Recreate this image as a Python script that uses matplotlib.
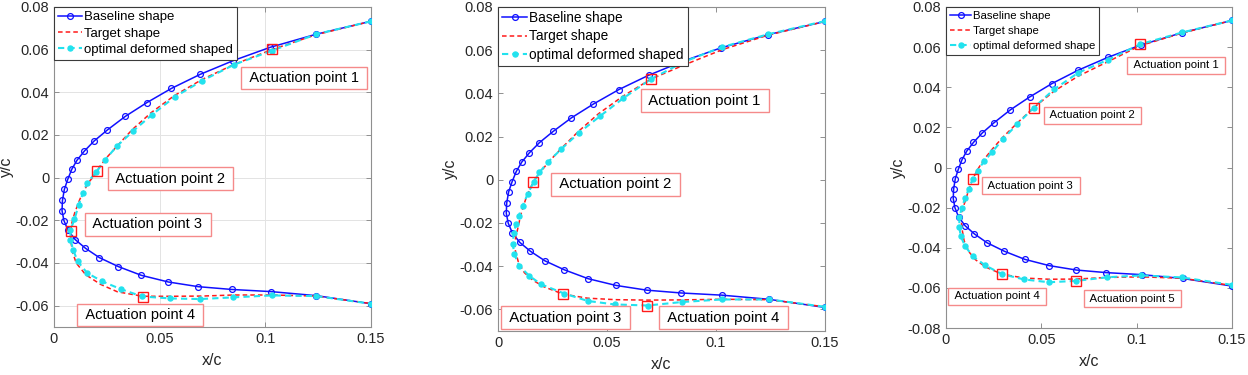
import matplotlib
matplotlib.use("Agg")
import matplotlib.pyplot as plt
from matplotlib.ticker import FuncFormatter, FixedLocator

plt.rcParams['font.family'] = ['Liberation Sans', 'DejaVu Sans']
plt.rcParams['axes.unicode_minus'] = False

# ---------------- data ----------------
baseline_x = [0.15, 0.1239, 0.1023, 0.0849, 0.0691, 0.0555, 0.0438, 0.0337, 0.0253, 0.0190,
              0.0144, 0.0109, 0.0084, 0.0065, 0.0049, 0.0040, 0.0038, 0.0047, 0.0066, 0.0100,
              0.0149, 0.0215, 0.0305, 0.0414, 0.0541, 0.0683, 0.0841, 0.1026, 0.1241, 0.15]
baseline_y = [0.0733, 0.0672, 0.0611, 0.0549, 0.0484, 0.0418, 0.0351, 0.0287, 0.0224, 0.0172,
              0.0125, 0.0082, 0.0039, -0.0008, -0.0055, -0.0107, -0.0155, -0.0201, -0.0246, -0.0290,
              -0.0331, -0.0375, -0.0417, -0.0458, -0.0489, -0.0511, -0.0524, -0.0534, -0.0553, -0.0591]

# panel 1
target1_x = [0.15, 0.124, 0.103, 0.085, 0.070, 0.057, 0.046, 0.037, 0.030, 0.025,
             0.0215, 0.0195, 0.0169, 0.0145, 0.0122, 0.0098, 0.0085, 0.0079, 0.0080, 0.0088,
             0.0105, 0.015, 0.022, 0.030, 0.042, 0.055, 0.070, 0.085, 0.103, 0.124, 0.15]
target1_y = [0.0733, 0.0670, 0.0600, 0.0530, 0.0460, 0.0385, 0.0305, 0.0225, 0.0150, 0.0095,
             0.0050, 0.0015, -0.0016, -0.0055, -0.0102, -0.0165, -0.0210, -0.0248, -0.0300, -0.0350,
             -0.0400, -0.0455, -0.0500, -0.0535, -0.0556, -0.0556, -0.0555, -0.0550, -0.0550, -0.0555, -0.0590]
opt1_x = [0.15, 0.1239, 0.103, 0.0853, 0.0702, 0.0572, 0.0465, 0.0375, 0.0297, 0.0243,
          0.0200, 0.0157, 0.0138, 0.0117, 0.0097, 0.0078, 0.0078, 0.0090, 0.0112, 0.0157,
          0.0228, 0.0315, 0.0417, 0.0550, 0.0690, 0.0849, 0.1030, 0.1240, 0.15]
opt1_y = [0.0733, 0.0672, 0.0595, 0.0530, 0.0455, 0.0379, 0.0296, 0.0219, 0.0147, 0.0085,
          0.0026, -0.0024, -0.0071, -0.0126, -0.0196, -0.0243, -0.0290, -0.0337, -0.0392, -0.0447,
          -0.0486, -0.0522, -0.0557, -0.0566, -0.0569, -0.0561, -0.0552, -0.0555, -0.0591]
act1_x = [0.1031, 0.0204, 0.0079, 0.0419]
act1_y = [0.0602, 0.0031, -0.0248, -0.0560]
act1_labels = ['Actuation point 1', 'Actuation point 2', 'Actuation point 3', 'Actuation point 4']

# panel 2
target2_x = [0.15, 0.124, 0.103, 0.085, 0.0701, 0.057, 0.046, 0.037, 0.029, 0.023,
             0.019, 0.0162, 0.013, 0.0105, 0.0090, 0.0082, 0.0078, 0.0080, 0.0094, 0.0121,
             0.0160, 0.0210, 0.0298, 0.041, 0.054, 0.0684, 0.0843, 0.1026, 0.124, 0.15]
target2_y = [0.0733, 0.0670, 0.0603, 0.0530, 0.0466, 0.0385, 0.0305, 0.0225, 0.0145, 0.0080,
             0.0030, -0.0009, -0.0080, -0.0160, -0.0229, -0.0260, -0.0290, -0.0330, -0.0383, -0.0430,
             -0.0465, -0.0495, -0.0529, -0.0548, -0.0555, -0.0557, -0.0556, -0.0553, -0.0555, -0.0588]
opt2_x = [0.15, 0.124, 0.1026, 0.0853, 0.0701, 0.0574, 0.0467, 0.0372, 0.0290, 0.0228,
          0.0190, 0.0164, 0.0136, 0.0113, 0.0095, 0.0083, 0.0072, 0.0068, 0.0075, 0.0098,
          0.0144, 0.0198, 0.0305, 0.0412, 0.0535, 0.0686, 0.0842, 0.1026, 0.1244, 0.15]
opt2_y = [0.0735, 0.0674, 0.0614, 0.0546, 0.0466, 0.0377, 0.0294, 0.0218, 0.0142, 0.0081,
          0.0034, -0.0009, -0.0066, -0.0121, -0.0167, -0.0206, -0.0244, -0.0298, -0.0345, -0.0399,
          -0.0445, -0.0484, -0.0527, -0.0561, -0.0577, -0.0582, -0.0566, -0.0554, -0.0554, -0.0588]
act2_x = [0.0701, 0.0162, 0.0298, 0.0684]
act2_y = [0.0466, -0.0009, -0.0529, -0.0582]
act2_labels = ['Actuation point 1', 'Actuation point 2', 'Actuation point 3', 'Actuation point 4']

# panel 3
target3_x = [0.15, 0.1238, 0.102, 0.085, 0.0693, 0.0566, 0.0461, 0.0374, 0.0297, 0.0243,
             0.0199, 0.0166, 0.0140, 0.0118, 0.0100, 0.0086, 0.0079, 0.0083, 0.0095, 0.0120,
             0.0155, 0.0210, 0.0295, 0.041, 0.054, 0.0684, 0.0847, 0.1025, 0.1238, 0.15]
target3_y = [0.0733, 0.0670, 0.0608, 0.0528, 0.0455, 0.0380, 0.0299, 0.0222, 0.0150, 0.0092,
             0.0040, -0.0010, -0.0058, -0.0115, -0.0170, -0.0210, -0.0245, -0.0300, -0.0365, -0.0420,
             -0.0460, -0.0497, -0.0532, -0.0551, -0.0557, -0.0556, -0.0548, -0.0545, -0.0552, -0.0588]
opt3_x = [0.15, 0.1238, 0.102, 0.0852, 0.0693, 0.0566, 0.0461, 0.0374, 0.0297, 0.0243,
          0.0199, 0.0166, 0.0140, 0.0120, 0.0100, 0.0082, 0.0070, 0.0070, 0.0077, 0.0100,
          0.0140, 0.0206, 0.0295, 0.0410, 0.0540, 0.0684, 0.0847, 0.1025, 0.1238, 0.15]
opt3_y = [0.0733, 0.0673, 0.0615, 0.0538, 0.0472, 0.0389, 0.0299, 0.0216, 0.0140, 0.0078,
          0.0030, -0.0015, -0.0058, -0.0106, -0.0153, -0.0203, -0.0248, -0.0297, -0.0342, -0.0392,
          -0.0442, -0.0488, -0.0532, -0.0558, -0.0572, -0.0565, -0.0547, -0.0538, -0.0548, -0.0585]
act3_x = [0.102, 0.0461, 0.0140, 0.0295, 0.0684]
act3_y = [0.0615, 0.0299, -0.0058, -0.0532, -0.0565]
act3_labels = ['Actuation point 1', 'Actuation point 2', 'Actuation point 3',
               'Actuation point 4', 'Actuation point 5']

x_ticks = [0, 0.05, 0.1, 0.15]
y_ticks_12 = [-0.06, -0.04, -0.02, 0, 0.02, 0.04, 0.06, 0.08]
y_ticks_3 = [-0.08, -0.06, -0.04, -0.02, 0, 0.02, 0.04, 0.06, 0.08]
legend_labels_12 = ['Baseline shape', 'Target shape', 'optimal deformed shaped']
legend_labels_3 = ['Baseline shape', 'Target shape', 'optimal deformed shape']

# ---------------- layout (label positions in data coords) ----------------
lab1_pos = [(0.1184, 0.0467), (0.0551, -0.0004), (0.0443, -0.0218), (0.0408, -0.0644)]
lab2_pos = [(0.0949, 0.0366), (0.0540, -0.0021), (0.0309, -0.0639), (0.1035, -0.0639)]
lab3_pos = [(0.1206, 0.0510), (0.0769, 0.0261), (0.0444, -0.0091), (0.0269, -0.0642), (0.0979, -0.0653)]

fig = plt.figure(figsize=(12.48, 3.75), dpi=100)
W, H = 1248, 375

def make_ax(l, r, t, b):
    return fig.add_axes([l / W, 1 - b / H, (r - l) / W, (b - t) / H])

ax1 = make_ax(54, 371, 7, 327)
ax2 = make_ax(498, 825, 7, 331)
ax3 = make_ax(946, 1232, 7, 328)

BLUE = '#1010ff'
RED = '#ff1a1a'
CYAN = '#22e2ee'
SPINE = '#8f8f8f'
TXT = '#262626'
BOXEC = '#f58a8a'

panels = [
    (ax1, target1_x, target1_y, opt1_x, opt1_y, act1_x, act1_y, act1_labels, lab1_pos,
     y_ticks_12, (-0.07, 0.08), legend_labels_12, 9.5, 10.5, True, 0.32, 0.3),
    (ax2, target2_x, target2_y, opt2_x, opt2_y, act2_x, act2_y, act2_labels, lab2_pos,
     y_ticks_12, (-0.07, 0.08), legend_labels_12, 9.8, 10.8, False, 0.32, 0.3),
    (ax3, target3_x, target3_y, opt3_x, opt3_y, act3_x, act3_y, act3_labels, lab3_pos,
     y_ticks_3, (-0.08, 0.08), legend_labels_3, 8.2, 8.2, False, 0.42, 0.35),
]

fmt = FuncFormatter(lambda v, p: ('%g' % round(v, 4)))

for (ax, tx, ty, ox, oy, axx, axy, alabels, lpos, yt, ylim, leglabels,
     legfs, labfs, grid, lspace, bpad) in panels:
    l1, = ax.plot(baseline_x, baseline_y, '-', color=BLUE, lw=1.1, marker='o', ms=4.2,
                  mfc='none', mec=BLUE, mew=0.9, zorder=3)
    l2, = ax.plot(tx, ty, '--', color=RED, lw=1.1, zorder=4, dashes=(3, 2))
    l3, = ax.plot(ox, oy, '--', color=CYAN, lw=1.5, marker='o', ms=3.6, mfc=CYAN,
                  mec=CYAN, zorder=4, dashes=(3, 2))
    ax.plot(axx, axy, 's', ms=7, mfc='none', mec=RED, mew=1.0, ls='none', zorder=5)
    for lab, (px, py) in zip(alabels, lpos):
        ax.text(px, py, ' ' + lab + ' ', fontsize=labfs, color='black', ha='center', va='center',
                bbox=dict(boxstyle='square,pad=0.3', fc='white', ec=BOXEC, lw=1.0),
                zorder=6, clip_on=False)
    ax.set_xlim(0, 0.15)
    ax.set_ylim(*ylim)
    ax.xaxis.set_major_locator(FixedLocator(x_ticks))
    ax.yaxis.set_major_locator(FixedLocator(yt))
    ax.xaxis.set_major_formatter(fmt)
    ax.yaxis.set_major_formatter(fmt)
    ax.tick_params(direction='in', length=3.5, width=0.7, colors=SPINE, labelcolor=TXT,
                   labelsize=10.5, top=True, right=True, pad=3.5)
    for s in ax.spines.values():
        s.set_color(SPINE)
        s.set_linewidth(0.8)
    if grid:
        ax.grid(True, color='#e3e3e3', lw=0.7, zorder=0)
        ax.set_axisbelow(True)
    ax.set_xlabel('x/c', fontsize=11.5, color=TXT, labelpad=5)
    ax.set_ylabel('y/c', fontsize=11.5, color=TXT, labelpad=1.5)
    leg = ax.legend([l1, l2, l3], leglabels, loc='upper left', fontsize=legfs,
                    borderaxespad=0, handlelength=1.85, handletextpad=0.15,
                    labelspacing=lspace, borderpad=bpad, fancybox=False, framealpha=1,
                    edgecolor='#3a3a3a')
    leg.get_frame().set_linewidth(0.8)
    leg.set_zorder(7)

fig.savefig('out.png', dpi=100)
